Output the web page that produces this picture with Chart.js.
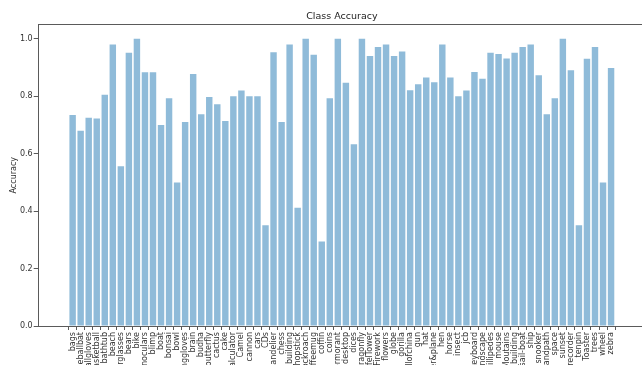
<!DOCTYPE html>
<html>
<head>
<meta charset="utf-8">
<script src="https://cdn.jsdelivr.net/npm/chart.js@4/dist/chart.umd.min.js"></script>
<style>
  html, body { margin: 0; padding: 0; overflow: hidden; background: #fff; width: 642px; height: 365px; }
  canvas { display: block; }
</style>
</head>
<body>
<canvas id="c" width="660" height="365" style="width:660px;height:365px"></canvas>
<script>
// Per-class accuracy of the classifier
const categories = [
  'bags', 'baseballbat', 'baseballgloves', 'basketball', 'bathtub', 'beach', 'bearglasses', 'bears',
  'bike', 'binoculars', 'blimp', 'boat', 'bonsai', 'bowl', 'boxinggloves', 'brain', 'budha',
  'butterfly', 'cactus', 'cake', 'calculator', 'Camel', 'cannon', 'cars', 'CDs', 'chandelier',
  'chess', 'chinese_building', 'chopstick', 'cockroach', 'coffeemug', 'coffin', 'coins', 'cormorant',
  'desktop', 'dices', 'dragonfly', 'EiffelTower', 'Firework', 'flowers', 'globe', 'gorilla',
  'greatwallofchina', 'gun', 'hat', 'helicopter&plane', 'hen', 'horse', 'insect', 'jcb', 'keyboard',
  'landscape', 'millipedes', 'mouse', 'Moutains', 'office_building', 'sail-boat', 'ship', 'snooker',
  'snowlandpath', 'space', 'sunset', 'taperecorder', 'tenpin', 'Toaster', 'trees', 'wheel', 'zebra'
];

const accuracy = [
  0.735, 0.680, 0.725, 0.722, 0.805, 0.980, 0.556, 0.951,
  1.000, 0.883, 0.883, 0.700, 0.793, 0.500, 0.710, 0.877, 0.737,
  0.797, 0.772, 0.714, 0.800, 0.820, 0.800, 0.800, 0.351, 0.953,
  0.710, 0.980, 0.412, 1.000, 0.944, 0.294, 0.793, 1.000,
  0.847, 0.633, 1.000, 0.940, 0.971, 0.980, 0.940, 0.956,
  0.821, 0.842, 0.865, 0.849, 0.980, 0.865, 0.800, 0.820, 0.884,
  0.861, 0.951, 0.947, 0.931, 0.951, 0.971, 0.980, 0.873,
  0.737, 0.793, 1.000, 0.890, 0.351, 0.930, 0.971, 0.500, 0.898
];

const yTicks = [0.0, 0.2, 0.4, 0.6, 0.8, 1.0];

const FONT = 'DejaVu Sans';
const n = categories.length;
// matplotlib-style limits: bar half-width 0.4 plus a 5% margin
const span = (n - 1) + 0.8;
const xMin = -0.4 - 0.05 * span;
const xMax = (n - 1) + 0.4 + 0.05 * span;

// axes frame drawn over the bars
const frame = {
  id: 'frame',
  afterDatasetsDraw(chart) {
    const { ctx, chartArea: a } = chart;
    ctx.save();
    ctx.strokeStyle = '#5a5a5a';
    ctx.lineWidth = 1;
    ctx.strokeRect(Math.round(a.left) + 0.5, Math.round(a.top) + 0.5,
                   Math.round(a.right - a.left), Math.round(a.bottom - a.top));
    ctx.restore();
  }
};

new Chart(document.getElementById('c'), {
  type: 'bar',
  data: {
    datasets: [{
      data: accuracy.map((v, i) => ({ x: i, y: v })),
      backgroundColor: 'rgba(31,119,180,0.5)',
      borderWidth: 0,
      barPercentage: 0.8,
      categoryPercentage: 1.0
    }]
  },
  options: {
    responsive: false,
    animation: false,
    devicePixelRatio: 1,
    layout: { padding: { left: 0, right: 14, top: 0, bottom: 0 } },
    plugins: {
      legend: { display: false },
      tooltip: { enabled: false },
      title: {
        display: true,
        fullSize: false,
        text: 'Class Accuracy',
        color: '#222',
        font: { family: FONT, size: 9.5, weight: 'normal' },
        padding: { top: 11, bottom: 2 }
      }
    },
    scales: {
      x: {
        type: 'linear',
        min: xMin,
        max: xMax,
        afterBuildTicks: (s) => { s.ticks = categories.map((_, i) => ({ value: i })); },
        afterFit: (s) => { s.height = 39; },
        grid: { drawOnChartArea: false, drawTicks: true, tickLength: 4, color: '#5a5a5a' },
        border: { display: false },
        ticks: {
          autoSkip: false,
          minRotation: 90,
          maxRotation: 90,
          padding: 2,
          color: '#333',
          font: { family: FONT, size: 8 },
          callback: (v) => categories[v]
        }
      },
      y: {
        min: 0,
        max: 1.05,
        afterBuildTicks: (s) => { s.ticks = yTicks.map(v => ({ value: v })); },
        afterFit: (s) => { s.width = 37.7; },
        grid: { drawOnChartArea: false, drawTicks: true, tickLength: 4, color: '#5a5a5a' },
        border: { display: false },
        ticks: {
          padding: 1,
          color: '#333',
          font: { family: FONT, size: 8 },
          callback: (v) => Number(v).toFixed(1)
        },
        title: {
          display: true,
          text: 'Accuracy',
          color: '#333',
          font: { family: FONT, size: 8 },
          padding: { top: 9, bottom: 0 }
        }
      }
    }
  },
  plugins: [frame]
});
</script>
</body>
</html>
